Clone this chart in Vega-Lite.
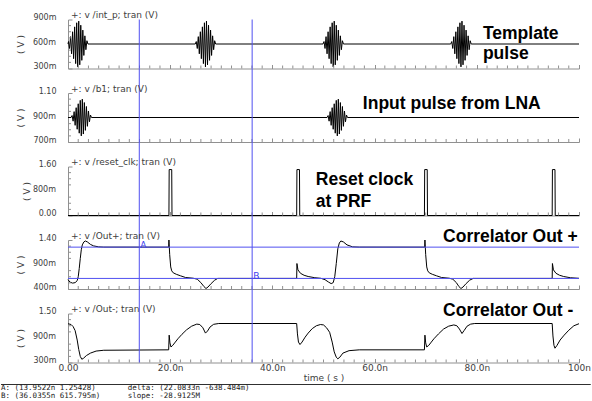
{
"$schema":"https://vega.github.io/schema/vega-lite/v6.json",
"padding":{"left":0,"top":10.5,"right":0,"bottom":0},
"background":"white",
"spacing":24.5,
"bounds":"flush",
"config":{
"view":{"stroke":null},
"axis":{"labelFont":"DejaVu Sans","labelFontSize":8,"labelColor":"#404040","titleFont":"DejaVu Sans","titleFontSize":9,"titleFontWeight":"normal","titleColor":"#404040","domainColor":"#909090","tickColor":"#909090","grid":false,"labelFlush":false,"tickSize":-4},
"axisY":{"labelOffset":-2,"labelPadding":16,"titlePadding":7},
"axisX":{"labelPadding":4.5,"titlePadding":1.7,"labelFontSize":9},
"text":{"font":"DejaVu Sans","fontSize":9,"color":"#404040"},
"rule":{"color":"#909090","strokeWidth":1}
},
"datasets":{
"cursors":[{"cursor":"A","t":13.9522,"v":1.25428},{"cursor":"B","t":36.0355,"v":0.615795}],
"xminor":[{"t":2},{"t":4},{"t":6},{"t":8},{"t":10},{"t":12},{"t":14},{"t":16},{"t":18},{"t":22},{"t":24},{"t":26},{"t":28},{"t":30},{"t":32},{"t":34},{"t":36},{"t":38},{"t":42},{"t":44},{"t":46},{"t":48},{"t":50},{"t":52},{"t":54},{"t":56},{"t":58},{"t":62},{"t":64},{"t":66},{"t":68},{"t":70},{"t":72},{"t":74},{"t":76},{"t":78},{"t":82},{"t":84},{"t":86},{"t":88},{"t":90},{"t":92},{"t":94},{"t":96},{"t":98}],
"y1minor":[{"v":0.375},{"v":0.45},{"v":0.525},{"v":0.675},{"v":0.75},{"v":0.825}],
"y2minor":[{"v":0.75},{"v":0.8},{"v":0.85},{"v":0.95},{"v":1.0},{"v":1.05}],
"y3minor":[{"v":0.2},{"v":0.4},{"v":0.6},{"v":1.0},{"v":1.2},{"v":1.4}],
"y4minor":[{"v":0.525},{"v":0.65},{"v":0.775},{"v":1.025},{"v":1.15},{"v":1.275}],
"y5minor":[{"v":0.45},{"v":0.6},{"v":0.75},{"v":1.05},{"v":1.2},{"v":1.35}],
"int_p":[{"t":0,"v":0.6},{"t":0.1,"v":0.63},{"t":0.3,"v":0.545},{"t":0.5,"v":0.69},{"t":0.7,"v":0.48},{"t":0.9,"v":0.75},{"t":1.1,"v":0.42},{"t":1.3,"v":0.81},{"t":1.5,"v":0.36},{"t":1.7,"v":0.86},{"t":1.9,"v":0.32},{"t":2.1,"v":0.88},{"t":2.3,"v":0.345},{"t":2.5,"v":0.83},{"t":2.7,"v":0.4},{"t":2.9,"v":0.77},{"t":3.1,"v":0.46},{"t":3.3,"v":0.7},{"t":3.5,"v":0.53},{"t":3.7,"v":0.64},{"t":3.9,"v":0.6},
{"t":24.9,"v":0.6},{"t":25.1,"v":0.63},{"t":25.3,"v":0.545},{"t":25.5,"v":0.69},{"t":25.7,"v":0.48},{"t":25.9,"v":0.75},{"t":26.1,"v":0.42},{"t":26.3,"v":0.81},{"t":26.5,"v":0.36},{"t":26.7,"v":0.86},{"t":26.9,"v":0.32},{"t":27.1,"v":0.88},{"t":27.3,"v":0.345},{"t":27.5,"v":0.83},{"t":27.7,"v":0.4},{"t":27.9,"v":0.77},{"t":28.1,"v":0.46},{"t":28.3,"v":0.7},{"t":28.5,"v":0.53},{"t":28.7,"v":0.64},{"t":28.9,"v":0.6},
{"t":49.9,"v":0.6},{"t":50.1,"v":0.63},{"t":50.3,"v":0.545},{"t":50.5,"v":0.69},{"t":50.7,"v":0.48},{"t":50.9,"v":0.75},{"t":51.1,"v":0.42},{"t":51.3,"v":0.81},{"t":51.5,"v":0.36},{"t":51.7,"v":0.86},{"t":51.9,"v":0.32},{"t":52.1,"v":0.88},{"t":52.3,"v":0.345},{"t":52.5,"v":0.83},{"t":52.7,"v":0.4},{"t":52.9,"v":0.77},{"t":53.1,"v":0.46},{"t":53.3,"v":0.7},{"t":53.5,"v":0.53},{"t":53.7,"v":0.64},{"t":53.9,"v":0.6},
{"t":74.9,"v":0.6},{"t":75.1,"v":0.63},{"t":75.3,"v":0.545},{"t":75.5,"v":0.69},{"t":75.7,"v":0.48},{"t":75.9,"v":0.75},{"t":76.1,"v":0.42},{"t":76.3,"v":0.81},{"t":76.5,"v":0.36},{"t":76.7,"v":0.86},{"t":76.9,"v":0.32},{"t":77.1,"v":0.88},{"t":77.3,"v":0.345},{"t":77.5,"v":0.83},{"t":77.7,"v":0.4},{"t":77.9,"v":0.77},{"t":78.1,"v":0.46},{"t":78.3,"v":0.7},{"t":78.5,"v":0.53},{"t":78.7,"v":0.64},{"t":78.9,"v":0.6},{"t":100,"v":0.6}],
"b1":[{"t":0,"v":0.9},{"t":0.6,"v":0.9},{"t":0.8,"v":0.916},{"t":1.0,"v":0.87},{"t":1.2,"v":0.948},{"t":1.4,"v":0.836},{"t":1.6,"v":0.98},{"t":1.8,"v":0.804},{"t":2.0,"v":1.012},{"t":2.2,"v":0.772},{"t":2.4,"v":1.04},{"t":2.6,"v":0.75},{"t":2.8,"v":1.05},{"t":3.0,"v":0.765},{"t":3.2,"v":1.022},{"t":3.4,"v":0.795},{"t":3.6,"v":0.99},{"t":3.8,"v":0.828},{"t":4.0,"v":0.953},{"t":4.2,"v":0.865},{"t":4.4,"v":0.92},{"t":4.6,"v":0.9},
{"t":50.7,"v":0.9},{"t":50.9,"v":0.916},{"t":51.1,"v":0.87},{"t":51.3,"v":0.948},{"t":51.5,"v":0.836},{"t":51.7,"v":0.98},{"t":51.9,"v":0.804},{"t":52.1,"v":1.012},{"t":52.3,"v":0.772},{"t":52.5,"v":1.04},{"t":52.7,"v":0.75},{"t":52.9,"v":1.05},{"t":53.1,"v":0.765},{"t":53.3,"v":1.022},{"t":53.5,"v":0.795},{"t":53.7,"v":0.99},{"t":53.9,"v":0.828},{"t":54.1,"v":0.953},{"t":54.3,"v":0.865},{"t":54.5,"v":0.92},{"t":54.7,"v":0.9},{"t":100,"v":0.9}],
"reset_clk":[{"t":0,"v":0},{"t":19.75,"v":0},{"t":19.8,"v":1.5},{"t":20.3,"v":1.5},{"t":20.35,"v":0},{"t":44.75,"v":0},{"t":44.8,"v":1.5},{"t":45.3,"v":1.5},{"t":45.35,"v":0},{"t":69.75,"v":0},{"t":69.8,"v":1.5},{"t":70.3,"v":1.5},{"t":70.35,"v":0},{"t":94.75,"v":0},{"t":94.8,"v":1.5},{"t":95.3,"v":1.5},{"t":95.35,"v":0},{"t":100,"v":0}],
"out_p":[{"t":0,"v":0.59},{"t":0.4,"v":0.54},{"t":0.9,"v":0.52},{"t":1.4,"v":0.53},{"t":1.8,"v":0.57},{"t":2.0,"v":0.65},{"t":2.2,"v":0.82},{"t":2.4,"v":1.02},{"t":2.6,"v":1.2},{"t":2.8,"v":1.3},{"t":3.1,"v":1.36},{"t":3.4,"v":1.38},{"t":3.8,"v":1.36},{"t":4.4,"v":1.31},{"t":5.0,"v":1.28},{"t":6.0,"v":1.26},{"t":7.0,"v":1.255},{"t":19.7,"v":1.254},{"t":19.75,"v":1.4},{"t":19.9,"v":1.1},{"t":20.1,"v":0.85},{"t":20.3,"v":0.77},{"t":20.6,"v":0.73},{"t":21.2,"v":0.7},{"t":22.0,"v":0.67},{"t":23.0,"v":0.635},{"t":24.5,"v":0.62},{"t":25.3,"v":0.6},{"t":26.0,"v":0.53},{"t":26.6,"v":0.45},{"t":27.0,"v":0.41},{"t":27.4,"v":0.44},{"t":28.0,"v":0.51},{"t":28.7,"v":0.58},{"t":29.3,"v":0.616},{"t":44.75,"v":0.616},{"t":44.8,"v":0.92},{"t":45.0,"v":0.79},{"t":45.5,"v":0.72},{"t":46.2,"v":0.68},{"t":47.0,"v":0.655},{"t":48.3,"v":0.63},{"t":49.5,"v":0.618},{"t":50.3,"v":0.59},{"t":51.0,"v":0.54},{"t":51.5,"v":0.51},{"t":51.9,"v":0.53},{"t":52.2,"v":0.65},{"t":52.5,"v":0.92},{"t":52.8,"v":1.22},{"t":53.1,"v":1.34},{"t":53.4,"v":1.38},{"t":53.9,"v":1.36},{"t":54.6,"v":1.3},{"t":55.7,"v":1.26},{"t":57.0,"v":1.255},{"t":69.8,"v":1.254},{"t":69.85,"v":1.4},{"t":70.0,"v":1.1},{"t":70.2,"v":0.85},{"t":70.4,"v":0.77},{"t":70.7,"v":0.73},{"t":71.3,"v":0.7},{"t":72.1,"v":0.67},{"t":73.1,"v":0.635},{"t":74.6,"v":0.62},{"t":75.3,"v":0.6},{"t":76.0,"v":0.53},{"t":76.5,"v":0.45},{"t":76.9,"v":0.41},{"t":77.3,"v":0.44},{"t":77.9,"v":0.51},{"t":78.6,"v":0.58},{"t":79.3,"v":0.616},{"t":94.75,"v":0.616},{"t":94.8,"v":0.92},{"t":95.0,"v":0.79},{"t":95.5,"v":0.72},{"t":96.2,"v":0.68},{"t":97.0,"v":0.655},{"t":98.3,"v":0.63},{"t":100,"v":0.618}],
"out_n":[{"t":0,"v":1.25},{"t":0.6,"v":1.23},{"t":1.0,"v":1.18},{"t":1.4,"v":1.08},{"t":1.8,"v":0.85},{"t":2.1,"v":0.62},{"t":2.4,"v":0.45},{"t":2.7,"v":0.38},{"t":3.0,"v":0.4},{"t":3.6,"v":0.47},{"t":4.4,"v":0.53},{"t":5.5,"v":0.58},{"t":7.0,"v":0.6},{"t":19.7,"v":0.61},{"t":19.8,"v":0.97},{"t":19.95,"v":0.78},{"t":20.15,"v":0.68},{"t":20.5,"v":0.72},{"t":21.0,"v":0.8},{"t":21.5,"v":0.88},{"t":22.3,"v":0.99},{"t":23.2,"v":1.1},{"t":24.2,"v":1.19},{"t":25.2,"v":1.24},{"t":25.8,"v":1.23},{"t":26.4,"v":1.15},{"t":26.9,"v":1.02},{"t":27.3,"v":1.07},{"t":27.8,"v":1.17},{"t":28.5,"v":1.235},{"t":29.5,"v":1.255},{"t":44.75,"v":1.255},{"t":44.9,"v":1.0},{"t":45.1,"v":0.8},{"t":45.4,"v":0.74},{"t":45.8,"v":0.8},{"t":46.4,"v":0.92},{"t":47.0,"v":1.02},{"t":47.8,"v":1.13},{"t":48.6,"v":1.2},{"t":49.4,"v":1.23},{"t":50.0,"v":1.22},{"t":50.6,"v":1.15},{"t":51.2,"v":1.04},{"t":51.7,"v":0.8},{"t":52.1,"v":0.56},{"t":52.5,"v":0.43},{"t":52.8,"v":0.39},{"t":53.2,"v":0.43},{"t":53.8,"v":0.53},{"t":55.0,"v":0.59},{"t":57.0,"v":0.61},{"t":69.75,"v":0.61},{"t":69.85,"v":0.97},{"t":70.0,"v":0.78},{"t":70.2,"v":0.68},{"t":70.6,"v":0.72},{"t":71.1,"v":0.8},{"t":71.6,"v":0.88},{"t":72.5,"v":1.0},{"t":73.5,"v":1.12},{"t":74.5,"v":1.19},{"t":75.5,"v":1.22},{"t":76.1,"v":1.2},{"t":76.6,"v":1.12},{"t":77.1,"v":1.01},{"t":77.5,"v":1.08},{"t":78.1,"v":1.19},{"t":78.8,"v":1.24},{"t":79.6,"v":1.255},{"t":94.75,"v":1.255},{"t":94.9,"v":0.95},{"t":95.1,"v":0.72},{"t":95.3,"v":0.65},{"t":95.7,"v":0.72},{"t":96.3,"v":0.85},{"t":97.1,"v":0.97},{"t":98.0,"v":1.09},{"t":99.0,"v":1.2},{"t":100,"v":1.25}]
},
"vconcat":[
{"width":511,"height":49,
"layer":[
{"data":{"name":"int_p"},"mark":{"type":"line","color":"#000000","strokeWidth":1},
"encoding":{"x":{"field":"t","type":"quantitative","scale":{"domain":[0,100],"nice":false,"zero":false},"axis":{"values":[0,20,40,60,80,100],"labels":false,"title":null}},
"y":{"field":"v","type":"quantitative","scale":{"domain":[0.3,0.9],"nice":false,"zero":false},"axis":{"values":[0.3,0.6,0.9],"labelExpr":"datum.value == 0.3 ? '300m' : datum.value == 0.6 ? '600m' : '900m'","title":"( V )"}}}},
{"data":{"name":"xminor"},"mark":{"type":"rule"},"encoding":{"x":{"field":"t","type":"quantitative"},"y":{"datum":0.3},"y2":{"datum":0.3367}}},
{"data":{"name":"y1minor"},"mark":{"type":"rule"},"encoding":{"y":{"field":"v","type":"quantitative"},"x":{"datum":0},"x2":{"datum":0.59}}},
{"data":{"name":"cursors"},"mark":{"type":"rule","color":"#5050f0"},"encoding":{"x":{"field":"t","type":"quantitative"}}},
{"data":{"values":[{"label":"600m"}]},"mark":{"type":"text","align":"right","baseline":"middle","dy":-1,"fontSize":8},
"encoding":{"x":{"datum":-2.35},"y":{"datum":0.6},"text":{"field":"label"}}},
{"data":{"values":[{"label":"+: v /int_p; tran (V)"}]},"mark":{"type":"text","align":"left","baseline":"middle","dx":3,"dy":-4.5},
"encoding":{"x":{"datum":0},"y":{"datum":0.9},"text":{"field":"label"}}},
{"data":{"values":[{"label":"Template\npulse"}]},"mark":{"type":"text","align":"left","baseline":"alphabetic","lineBreak":"\n","lineHeight":20,"font":"Liberation Sans","fontWeight":"bold","fontSize":17.5,"color":"#000000"},
"encoding":{"x":{"datum":81.2},"y":{"datum":0.665},"text":{"field":"label"}}}
]},
{"width":511,"height":49,
"layer":[
{"data":{"name":"b1"},"mark":{"type":"line","color":"#000000","strokeWidth":1},
"encoding":{"x":{"field":"t","type":"quantitative","scale":{"domain":[0,100],"nice":false,"zero":false},"axis":{"values":[0,20,40,60,80,100],"labels":false,"title":null}},
"y":{"field":"v","type":"quantitative","scale":{"domain":[0.7,1.1],"nice":false,"zero":false},"axis":{"values":[0.7,0.9,1.1],"labelExpr":"datum.value == 0.7 ? '700m' : datum.value == 0.9 ? '900m' : '1.10'","title":"( V )"}}}},
{"data":{"name":"xminor"},"mark":{"type":"rule"},"encoding":{"x":{"field":"t","type":"quantitative"},"y":{"datum":0.7},"y2":{"datum":0.7245}}},
{"data":{"name":"y2minor"},"mark":{"type":"rule"},"encoding":{"y":{"field":"v","type":"quantitative"},"x":{"datum":0},"x2":{"datum":0.59}}},
{"data":{"name":"cursors"},"mark":{"type":"rule","color":"#5050f0"},"encoding":{"x":{"field":"t","type":"quantitative"},"y":{"datum":0.7},"y2":{"datum":1.3}}},
{"data":{"values":[{"label":"900m"}]},"mark":{"type":"text","align":"right","baseline":"middle","dy":-1,"fontSize":8},
"encoding":{"x":{"datum":-2.35},"y":{"datum":0.9},"text":{"field":"label"}}},
{"data":{"values":[{"label":"+: v /b1; tran (V)"}]},"mark":{"type":"text","align":"left","baseline":"middle","dx":3,"dy":-4.5},
"encoding":{"x":{"datum":0},"y":{"datum":1.1},"text":{"field":"label"}}},
{"data":{"values":[{"label":"Input pulse from LNA"}]},"mark":{"type":"text","align":"left","baseline":"alphabetic","font":"Liberation Sans","fontWeight":"bold","fontSize":17.5,"color":"#000000"},
"encoding":{"x":{"datum":57.7},"y":{"datum":0.972},"text":{"field":"label"}}}
]},
{"width":511,"height":49,
"layer":[
{"data":{"name":"reset_clk"},"mark":{"type":"line","color":"#000000","strokeWidth":1},
"encoding":{"x":{"field":"t","type":"quantitative","scale":{"domain":[0,100],"nice":false,"zero":false},"axis":{"values":[0,20,40,60,80,100],"labels":false,"title":null}},
"y":{"field":"v","type":"quantitative","scale":{"domain":[0,1.6],"nice":false,"zero":false},"axis":{"values":[0,0.8,1.6],"labelExpr":"datum.value == 0 ? '0.00' : datum.value == 0.8 ? '800m' : '1.60'","title":"( V )"}}}},
{"data":{"name":"xminor"},"mark":{"type":"rule"},"encoding":{"x":{"field":"t","type":"quantitative"},"y":{"datum":0},"y2":{"datum":0.098}}},
{"data":{"name":"y3minor"},"mark":{"type":"rule"},"encoding":{"y":{"field":"v","type":"quantitative"},"x":{"datum":0},"x2":{"datum":0.59}}},
{"data":{"name":"cursors"},"mark":{"type":"rule","color":"#5050f0"},"encoding":{"x":{"field":"t","type":"quantitative"},"y":{"datum":0},"y2":{"datum":2.4}}},
{"data":{"values":[{"label":"800m"}]},"mark":{"type":"text","align":"right","baseline":"middle","dy":-1,"fontSize":8},
"encoding":{"x":{"datum":-2.35},"y":{"datum":0.8},"text":{"field":"label"}}},
{"data":{"values":[{"label":"+: v /reset_clk; tran (V)"}]},"mark":{"type":"text","align":"left","baseline":"middle","dx":3,"dy":-4.5},
"encoding":{"x":{"datum":0},"y":{"datum":1.6},"text":{"field":"label"}}},
{"data":{"values":[{"label":"Reset clock\nat PRF"}]},"mark":{"type":"text","align":"left","baseline":"alphabetic","lineBreak":"\n","lineHeight":22,"font":"Liberation Sans","fontWeight":"bold","fontSize":17.5,"color":"#000000"},
"encoding":{"x":{"datum":48.5},"y":{"datum":0.989},"text":{"field":"label"}}}
]},
{"width":511,"height":49,
"layer":[
{"data":{"name":"out_p"},"mark":{"type":"line","color":"#000000","strokeWidth":1},
"encoding":{"x":{"field":"t","type":"quantitative","scale":{"domain":[0,100],"nice":false,"zero":false},"axis":{"values":[0,20,40,60,80,100],"labels":false,"title":null}},
"y":{"field":"v","type":"quantitative","scale":{"domain":[0.4,1.4],"nice":false,"zero":false},"axis":{"values":[0.4,0.9,1.4],"labelExpr":"datum.value == 0.4 ? '400m' : datum.value == 0.9 ? '900m' : '1.40'","title":"( V )"}}}},
{"data":{"name":"xminor"},"mark":{"type":"rule"},"encoding":{"x":{"field":"t","type":"quantitative"},"y":{"datum":0.4},"y2":{"datum":0.4612}}},
{"data":{"name":"y4minor"},"mark":{"type":"rule"},"encoding":{"y":{"field":"v","type":"quantitative"},"x":{"datum":0},"x2":{"datum":0.59}}},
{"data":{"name":"cursors"},"mark":{"type":"rule","color":"#5050f0"},"encoding":{"x":{"field":"t","type":"quantitative"},"y":{"datum":0.4},"y2":{"datum":1.9}}},
{"data":{"name":"cursors"},"mark":{"type":"rule","color":"#5050f0"},"encoding":{"y":{"field":"v","type":"quantitative"}}},
{"data":{"name":"cursors"},"mark":{"type":"text","align":"left","baseline":"middle","dx":1,"dy":-2,"fontSize":9,"color":"#4040f0"},
"encoding":{"x":{"field":"t","type":"quantitative"},"y":{"field":"v","type":"quantitative"},"text":{"field":"cursor"}}},
{"data":{"values":[{"label":"900m"}]},"mark":{"type":"text","align":"right","baseline":"middle","dy":-1,"fontSize":8},
"encoding":{"x":{"datum":-2.35},"y":{"datum":0.9},"text":{"field":"label"}}},
{"data":{"values":[{"label":"+: v /Out+; tran (V)"}]},"mark":{"type":"text","align":"left","baseline":"middle","dx":3,"dy":-4.5},
"encoding":{"x":{"datum":0},"y":{"datum":1.4},"text":{"field":"label"}}},
{"data":{"values":[{"label":"Correlator Out +"}]},"mark":{"type":"text","align":"left","baseline":"alphabetic","font":"Liberation Sans","fontWeight":"bold","fontSize":17.5,"color":"#000000"},
"encoding":{"x":{"datum":73.4},"y":{"datum":1.361},"text":{"field":"label"}}}
]},
{"width":511,"height":49,
"layer":[
{"data":{"name":"out_n"},"mark":{"type":"line","color":"#000000","strokeWidth":1},
"encoding":{"x":{"field":"t","type":"quantitative","scale":{"domain":[0,100],"nice":false,"zero":false},"axis":{"values":[0,20,40,60,80,100],"labelExpr":"datum.value == 0 ? '0.00' : datum.value == 100 ? '100n' : format(datum.value, '.1f') + 'n'","title":"time ( s )"}},
"y":{"field":"v","type":"quantitative","scale":{"domain":[0.3,1.5],"nice":false,"zero":false},"axis":{"values":[0.3,0.9,1.5],"labelExpr":"datum.value == 0.3 ? '300m' : datum.value == 0.9 ? '900m' : '1.50'","title":"( V )"}}}},
{"data":{"name":"xminor"},"mark":{"type":"rule"},"encoding":{"x":{"field":"t","type":"quantitative"},"y":{"datum":0.3},"y2":{"datum":0.3735}}},
{"data":{"name":"y5minor"},"mark":{"type":"rule"},"encoding":{"y":{"field":"v","type":"quantitative"},"x":{"datum":0},"x2":{"datum":0.59}}},
{"data":{"name":"cursors"},"mark":{"type":"rule","color":"#5050f0"},"encoding":{"x":{"field":"t","type":"quantitative"},"y":{"datum":0.3},"y2":{"datum":2.1}}},
{"data":{"values":[{"label":"900m"}]},"mark":{"type":"text","align":"right","baseline":"middle","dy":-1,"fontSize":8},
"encoding":{"x":{"datum":-2.35},"y":{"datum":0.9},"text":{"field":"label"}}},
{"data":{"values":[{"label":"+: v /Out-; tran (V)"}]},"mark":{"type":"text","align":"left","baseline":"middle","dx":3,"dy":-4.5},
"encoding":{"x":{"datum":0},"y":{"datum":1.5},"text":{"field":"label"}}},
{"data":{"values":[{"label":"Correlator Out -"}]},"mark":{"type":"text","align":"left","baseline":"alphabetic","font":"Liberation Sans","fontWeight":"bold","fontSize":17.5,"color":"#000000"},
"encoding":{"x":{"datum":73.4},"y":{"datum":1.434},"text":{"field":"label"}}},
{"data":{"values":[{}]},"mark":{"type":"rule","color":"#303030"},
"encoding":{"x":{"datum":-13.11},"x2":{"datum":102.3},"y":{"datum":-0.239}}},
{"data":{"values":[{"label":"A: (13.9522n 1.25428)\nB: (36.0355n 615.795m)"}]},"mark":{"type":"text","align":"left","baseline":"alphabetic","lineBreak":"\n","lineHeight":7.5,"font":"DejaVu Sans Mono","fontSize":7.5,"color":"#202020"},
"encoding":{"x":{"datum":-13.11},"y":{"datum":-0.378},"text":{"field":"label"}}},
{"data":{"values":[{"label":"delta: (22.0833n -638.484m)\nslope: -28.9125M"}]},"mark":{"type":"text","align":"left","baseline":"alphabetic","lineBreak":"\n","lineHeight":7.5,"font":"DejaVu Sans Mono","fontSize":7.5,"color":"#202020"},
"encoding":{"x":{"datum":11.68},"y":{"datum":-0.378},"text":{"field":"label"}}}
]}
]
}
